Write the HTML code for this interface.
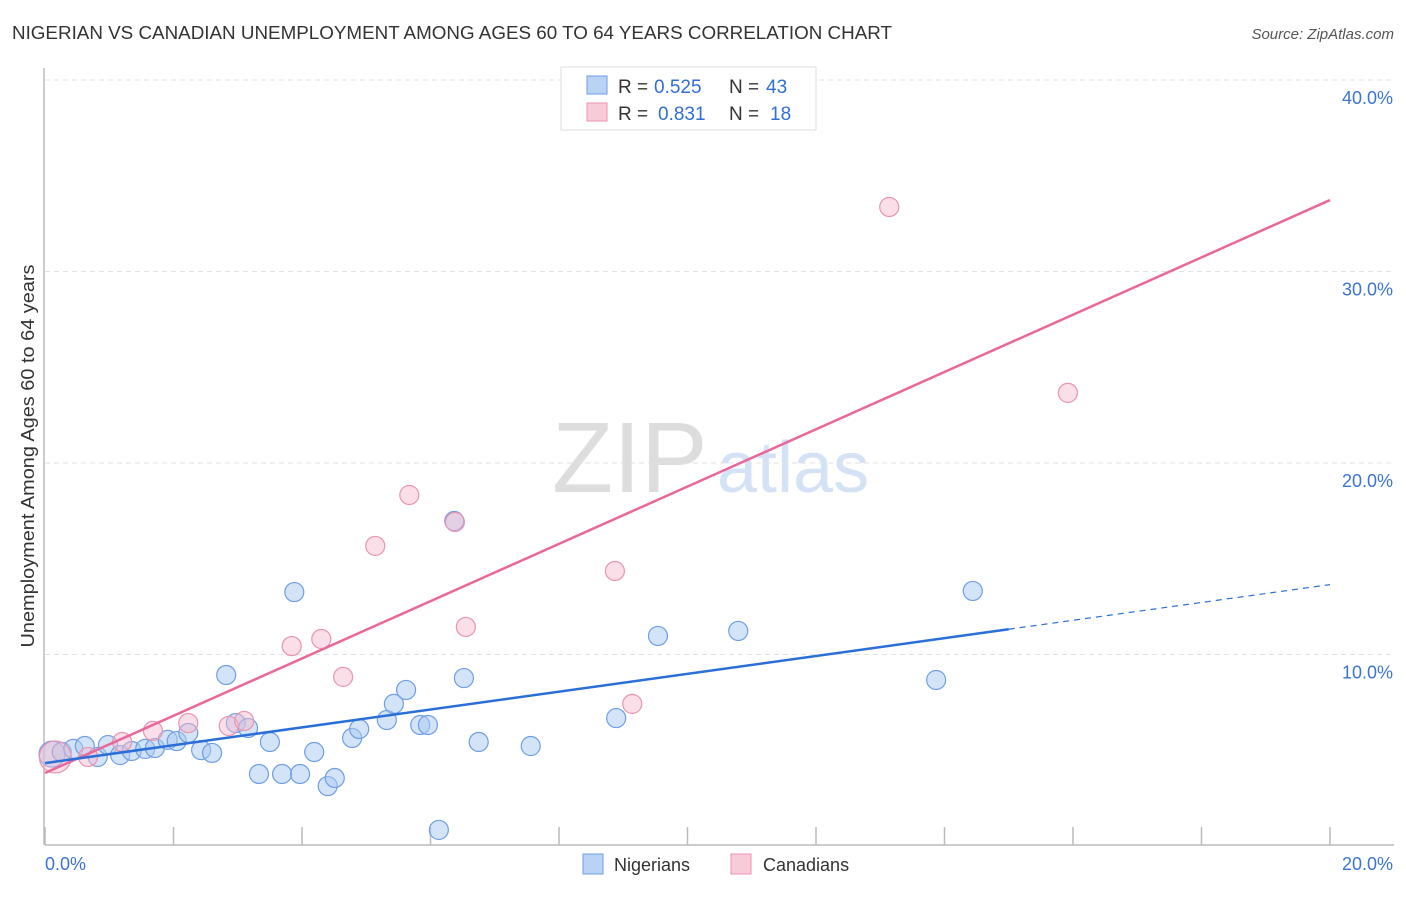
<!DOCTYPE html>
<html><head><meta charset="utf-8">
<style>
body{margin:0;background:#fff;font-family:"Liberation Sans",sans-serif;}
svg text{font-family:"Liberation Sans",sans-serif;}
</style></head>
<body>
<svg id="chart" width="1406" height="892" xmlns="http://www.w3.org/2000/svg">
<text x="12" y="39" font-size="18" fill="#333" textLength="880" lengthAdjust="spacingAndGlyphs">NIGERIAN VS CANADIAN UNEMPLOYMENT AMONG AGES 60 TO 64 YEARS CORRELATION CHART</text>
<text x="1394" y="39" font-size="15" fill="#555" font-style="italic" text-anchor="end">Source: ZipAtlas.com</text>
<g>
<text x="552" y="492" font-size="100" fill="#ddd" font-family="Liberation Serif,serif">ZIP</text>
<text x="717" y="492" font-size="72" fill="#d4e2f6">atlas</text>
</g>
<g id="grid"></g>
<g id="axes"></g>
<g id="marks"></g>
<text transform="translate(34,456) rotate(-90)" font-size="18" fill="#333" text-anchor="middle" textLength="383" lengthAdjust="spacingAndGlyphs">Unemployment Among Ages 60 to 64 years</text>
<g>
<rect x="561" y="67" width="255" height="63" fill="#fff" stroke="#ddd"/>
<rect x="587" y="76" width="20" height="18" fill="#b9d3f5" stroke="#6d9ee6"/>
<text x="618" y="93" font-size="19" fill="#333">R =</text>
<text x="654" y="93" font-size="19" fill="#2f6fd6">0.525</text>
<text x="729" y="93" font-size="19" fill="#333">N =</text>
<text x="766" y="93" font-size="19" fill="#2f6fd6">43</text>
<rect x="587" y="103" width="20" height="18" fill="#f8cbd8" stroke="#ea94ae"/>
<text x="618" y="120" font-size="19" fill="#333">R =</text>
<text x="658" y="120" font-size="19" fill="#2f6fd6">0.831</text>
<text x="729" y="120" font-size="19" fill="#333">N =</text>
<text x="770" y="120" font-size="19" fill="#2f6fd6">18</text>
</g>
<g>
<rect x="583" y="854" width="20" height="20" fill="#b9d3f5" stroke="#6d9ee6"/>
<text x="614" y="871" font-size="18" fill="#333">Nigerians</text>
<rect x="731" y="854" width="20" height="20" fill="#f8cbd8" stroke="#ea94ae"/>
<text x="763" y="871" font-size="18" fill="#333">Canadians</text>
</g>
</svg>
<script>
const yTicks=[10,20,30,40];
const yTickLabels=["10.0%","20.0%","30.0%","40.0%"];
const xTicks=[0,2,4,6,8,10,12,14,16,18,20];
const nigX=[0.11,0.26,0.44,0.62,0.82,0.98,1.17,1.35,1.56,1.71,1.91,2.05,2.23,2.43,2.60,2.82,2.97,3.16,3.33,3.50,3.69,3.88,3.97,4.19,4.40,4.51,4.78,4.89,5.32,5.43,5.62,5.84,5.96,6.13,6.37,6.52,6.75,7.56,8.89,9.54,10.79,13.87,14.44];
const nigY=[4.80,4.91,5.07,5.22,4.65,5.27,4.75,4.96,5.07,5.12,5.54,5.48,5.90,5.01,4.86,8.93,6.42,6.16,3.76,5.43,3.76,13.26,3.76,4.91,3.13,3.55,5.64,6.11,6.58,7.42,8.15,6.32,6.32,0.84,16.97,8.77,5.43,5.22,6.68,10.97,11.23,8.67,13.32];
const canX=[0.16,0.67,1.20,1.68,2.23,2.86,3.10,3.84,4.30,4.64,5.14,5.67,6.38,6.55,8.87,9.14,13.14,15.92];
const canY=[4.65,4.65,5.43,6.01,6.42,6.27,6.53,10.44,10.81,8.83,15.67,18.33,16.92,11.44,14.36,7.42,33.37,23.66];
const nigTrend=[4.33,0.466];
const canTrend=[3.81,1.496];
const ns="http://www.w3.org/2000/svg";
const X=v=>45+v*64.25, Y=v=>846-v*19.15;
function mk(parent,tag,attrs){const e=document.createElementNS(ns,tag);for(const k in attrs)e.setAttribute(k,attrs[k]);document.getElementById(parent).appendChild(e);return e;}
yTicks.forEach((t,i)=>{
 const g=mk('grid','line',{x1:45,x2:1394,y1:Y(t),y2:Y(t),stroke:'#e2e2e2','stroke-dasharray':'5,4'});
 
 
 const l=mk('axes','text',{x:1393,y:Y(t)+24,'font-size':18,fill:'#3b74d4','text-anchor':'end'});
 l.textContent=yTickLabels[i];
 
 
});
const ax=mk('axes','line',{x1:45,x2:1394,y1:845,y2:845,stroke:'#bbb','stroke-width':1.5});


const ay=mk('axes','line',{x1:44,x2:44,y1:68,y2:845,stroke:'#bbb','stroke-width':1.5});


xTicks.forEach(t=>{
 const k=mk('axes','line',{x1:X(t),x2:X(t),y1:827,y2:845,stroke:'#bbb','stroke-width':1.5});
 
 
});
const x0=mk('axes','text',{x:45,y:870,'font-size':18,fill:'#3b74d4'});x0.textContent='0.0%';


const x1=mk('axes','text',{x:1393,y:870,'font-size':18,fill:'#3b74d4','text-anchor':'end'});x1.textContent='20.0%';


nigX.forEach((x,i)=>{
 const c=mk('marks','circle',{cx:X(x),cy:Y(nigY[i]),r:i==0?13:9.5,fill:'rgba(170,202,242,0.5)',stroke:'#6d9ee6','stroke-width':1.2});
 
 
});
canX.forEach((x,i)=>{
 const c=mk('marks','circle',{cx:X(x),cy:Y(canY[i]),r:i==0?16:9.5,fill:'rgba(246,185,205,0.45)',stroke:'#ea94ae','stroke-width':1.2});
 
 
});
const cl=mk('marks','line',{x1:X(0),y1:Y(canTrend[0]),x2:X(20),y2:Y(canTrend[0]+canTrend[1]*20),stroke:'#e8689a','stroke-width':2.5});


const nl=mk('marks','line',{x1:X(0),y1:Y(nigTrend[0]),x2:X(15),y2:Y(nigTrend[0]+nigTrend[1]*15),stroke:'#2a6fd8','stroke-width':2.5});


const nd=mk('marks','line',{x1:X(15),y1:Y(nigTrend[0]+nigTrend[1]*15),x2:X(20),y2:Y(nigTrend[0]+nigTrend[1]*20),stroke:'#2a6fd8','stroke-width':1.2,'stroke-dasharray':'6,5'});


</script>
</body></html>
